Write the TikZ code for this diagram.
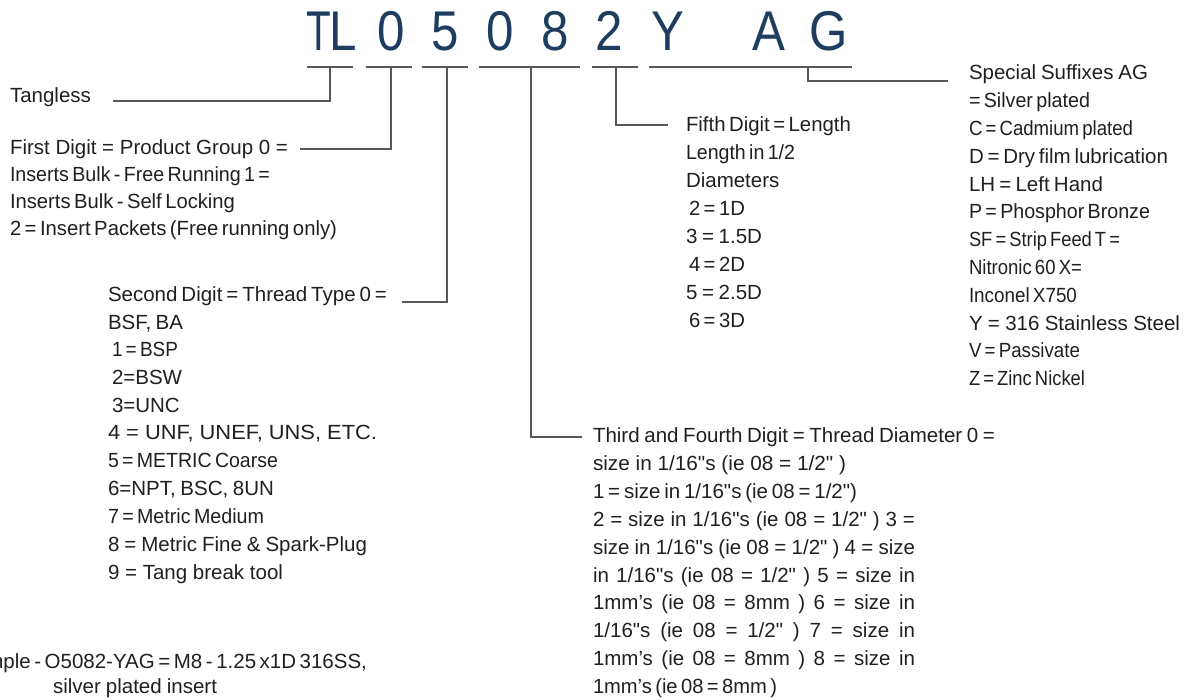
\documentclass[tikz,border=0pt]{standalone}
\usepackage{fontspec}
\setmainfont{Liberation Sans}[Ligatures=TeXOff]
\definecolor{titleblue}{RGB}{31,61,96}
\definecolor{linec}{RGB}{88,88,88}
\definecolor{textc}{RGB}{35,31,32}
\newcommand{\myBody}{\fontsize{20.5}{27}\selectfont}
\newcommand{\myTitle}{\fontsize{56}{60}\selectfont}
\newsavebox\lnA
% fit a line to a width: scale up slightly, or shrink spaces, or compress
\newcommand{\fl}[2]{{\frenchspacing
  \sbox\lnA{#2}%
  \ifdim\wd\lnA<#1pt
    \resizebox{#1pt}{\height}{\usebox\lnA}%
  \else
    \sbox\lnA{\spaceskip=0.17em\relax #2}%
    \ifdim\wd\lnA>#1pt
      \resizebox{#1pt}{\height}{\usebox\lnA}%
    \else
      \spaceskip=0.278em minus 0.108em\relax\makebox[#1pt][s]{#2}%
    \fi
  \fi}}
% justified line: spaces stretch
\newcommand{\jl}[2]{{\frenchspacing\spaceskip=0.278em plus 1.5em minus 0.2em\relax\makebox[#1pt][s]{#2}}}
\newcommand{\tc}[1]{\scalebox{0.88}[1]{#1}}
\begin{document}
\begin{tikzpicture}[x=1pt,y=-1pt,
  txt/.style={anchor=base west, inner sep=0pt, outer sep=0pt, text=textc, font=\myBody},
  ttl/.style={anchor=base, inner sep=0pt, outer sep=0pt, text=titleblue, font=\myTitle},
  conn/.style={draw=linec, line width=2pt}]
\useasboundingbox[fill=white] (0,0) rectangle (1184,700);

% ---- title characters
\node[ttl] (cT)  at (319,51)   {\scalebox{0.72}[1]{T}};
\node[ttl] (cL)  at (343,51)   {\tc{L}};
\node[ttl] (c0a) at (391,51)   {\tc{0}};
\node[ttl] (c5)  at (445,51)   {\tc{5}};
\node[ttl] (c0b) at (500,51)   {\tc{0}};
\node[ttl] (c8)  at (555.5,51) {\tc{8}};
\node[ttl] (c2)  at (609.5,51) {\tc{2}};
\node[ttl] (cY)  at (667.5,51) {\tc{Y}};
\node[ttl] (cA)  at (769,51)   {\tc{A}};
\node[ttl] (cG)  at (829,51)   {\tc{G}};

% ---- underlines and connectors
\coordinate (u1l) at (307,67); \coordinate (u1r) at (353,67); \coordinate (u1m) at (330,67); \coordinate (e1) at (113,101);
\coordinate (u2l) at (366,67); \coordinate (u2r) at (412,67); \coordinate (u2m) at (391,67); \coordinate (e2) at (300,149);
\coordinate (u3l) at (422,67); \coordinate (u3r) at (468,67); \coordinate (u3m) at (447,67); \coordinate (e3) at (402,302);
\coordinate (u4l) at (479,67); \coordinate (u4r) at (580,67); \coordinate (u4m) at (531,67); \coordinate (e4) at (582,437);
\coordinate (u5l) at (592,67); \coordinate (u5r) at (638,67); \coordinate (u5m) at (616,67); \coordinate (e5) at (668,125);
\coordinate (u6l) at (649,67); \coordinate (u6r) at (852,67); \coordinate (u6m) at (808,67); \coordinate (e6) at (948,81);

\draw[conn] (u1l) -- (u1r); \draw[conn] (u1m) |- (e1);
\draw[conn] (u2l) -- (u2r); \draw[conn] (u2m) |- (e2);
\draw[conn] (u3l) -- (u3r); \draw[conn] (u3m) |- (e3);
\draw[conn] (u4l) -- (u4r); \draw[conn] (u4m) |- (e4);
\draw[conn] (u5l) -- (u5r); \draw[conn] (u5m) |- (e5);
\draw[conn] (u6l) -- (u6r); \draw[conn] (u6m) |- (e6);

% ---- Tangless / first digit
\node[txt] (tang) at (10,103) {Tangless};
\node[txt] (fd1) at (10,155) {\fl{278}{First Digit = Product Group 0 =}};
\node[txt] (fd2) at (10,182) {\fl{260}{Inserts Bulk - Free Running 1 =}};
\node[txt] (fd3) at (10,209) {\fl{225}{Inserts Bulk - Self Locking}};
\node[txt] (fd4) at (10,236) {\fl{327}{2 = Insert Packets (Free running only)}};

% ---- second digit
\node[txt] (sd0)  at (108,302) {\fl{279}{Second Digit = Thread Type 0 =}};
\node[txt] (sd1)  at (108,330) {\fl{75}{BSF, BA}};
\node[txt] (sd2)  at (112,357) {\fl{66}{1 = BSP}};
\node[txt] (sd3)  at (112,385) {2=BSW};
\node[txt] (sd4)  at (112,413) {3=UNC};
\node[txt] (sd5)  at (108,440) {\fl{269}{4 = UNF, UNEF, UNS, ETC.}};
\node[txt] (sd6)  at (108,468) {\fl{170}{5 = METRIC Coarse}};
\node[txt] (sd7)  at (108,496) {\fl{166}{6=NPT, BSC, 8UN}};
\node[txt] (sd8)  at (108,523) {\fl{156}{7 = Metric Medium}};
\node[txt] (sd9)  at (108,551) {\fl{259}{8 = Metric Fine \& Spark-Plug}};
\node[txt] (sd10) at (108,579) {\fl{175}{9 = Tang break tool}};

% ---- fifth digit
\node[txt] (fi0) at (686,132) {\fl{165}{Fifth Digit = Length}};
\node[txt] (fi1) at (686,160) {\fl{109}{Length in 1/2}};
\node[txt] (fi2) at (686,188) {Diameters};
\node[txt] (fi3) at (689,216) {\fl{56}{2 = 1D}};
\node[txt] (fi4) at (686,244) {\fl{76}{3 = 1.5D}};
\node[txt] (fi5) at (689,272) {\fl{56}{4 = 2D}};
\node[txt] (fi6) at (686,300) {\fl{76}{5 = 2.5D}};
\node[txt] (fi7) at (689,328) {\fl{56}{6 = 3D}};

% ---- special suffixes
\node[txt] (ss0)  at (969,80)    {\fl{179}{Special Suffixes AG}};
\node[txt] (ss1)  at (969,107.8) {\fl{121}{= Silver plated}};
\node[txt] (ss2)  at (969,135.6) {\fl{164}{C = Cadmium plated}};
\node[txt] (ss3)  at (969,163.4) {\fl{199}{D = Dry film lubrication}};
\node[txt] (ss4)  at (969,191.2) {\fl{134}{LH = Left Hand}};
\node[txt] (ss5)  at (969,219)   {\fl{181}{P = Phosphor Bronze}};
\node[txt] (ss6)  at (969,246.8) {\fl{151}{SF = Strip Feed T =}};
\node[txt] (ss7)  at (969,274.6) {\fl{113}{Nitronic 60 X=}};
\node[txt] (ss8)  at (969,302.4) {\fl{108}{Inconel X750}};
\node[txt] (ss9)  at (969,330.2) {\fl{211}{Y = 316 Stainless Steel}};
\node[txt] (ss10) at (969,358)   {\fl{111}{V = Passivate}};
\node[txt] (ss11) at (969,385.8) {\fl{116}{Z = Zinc Nickel}};

% ---- third and fourth digit
\node[txt] (tf0) at (593,443)   {\fl{402}{Third and Fourth Digit = Thread Diameter 0 =}};
\node[txt] (tf1) at (593,470.8) {\fl{253}{size in 1/16"s (ie 08 = 1/2" )}};
\node[txt] (tf2) at (593,498.6) {\fl{264}{1 = size in 1/16"s (ie 08 = 1/2")}};
\node[txt] (tf3) at (593,526.4) {\jl{322}{2 = size in 1/16"s (ie 08 = 1/2" ) 3 =}};
\node[txt] (tf4) at (593,554.2) {\jl{322}{size in 1/16"s (ie 08 = 1/2" ) 4 = size}};
\node[txt] (tf5) at (593,582)   {\jl{322}{in 1/16"s (ie 08 = 1/2" ) 5 = size in}};
\node[txt] (tf6) at (593,609.8) {\jl{322}{1mm’s (ie 08 = 8mm ) 6 = size in}};
\node[txt] (tf7) at (593,637.6) {\jl{322}{1/16"s (ie 08 = 1/2" ) 7 = size in}};
\node[txt] (tf8) at (593,665.4) {\jl{322}{1mm’s (ie 08 = 8mm ) 8 = size in}};
\node[txt] (tf9) at (593,693.2) {\fl{184}{1mm’s (ie 08 = 8mm )}};

% ---- example
\node[txt, anchor=base east] (ex1) at (367,668) {\fl{416}{Example - O5082-YAG = M8 - 1.25 x1D 316SS,}};
\node[txt] (ex2) at (53,693) {\fl{164}{silver plated insert}};
\end{tikzpicture}
\end{document}
